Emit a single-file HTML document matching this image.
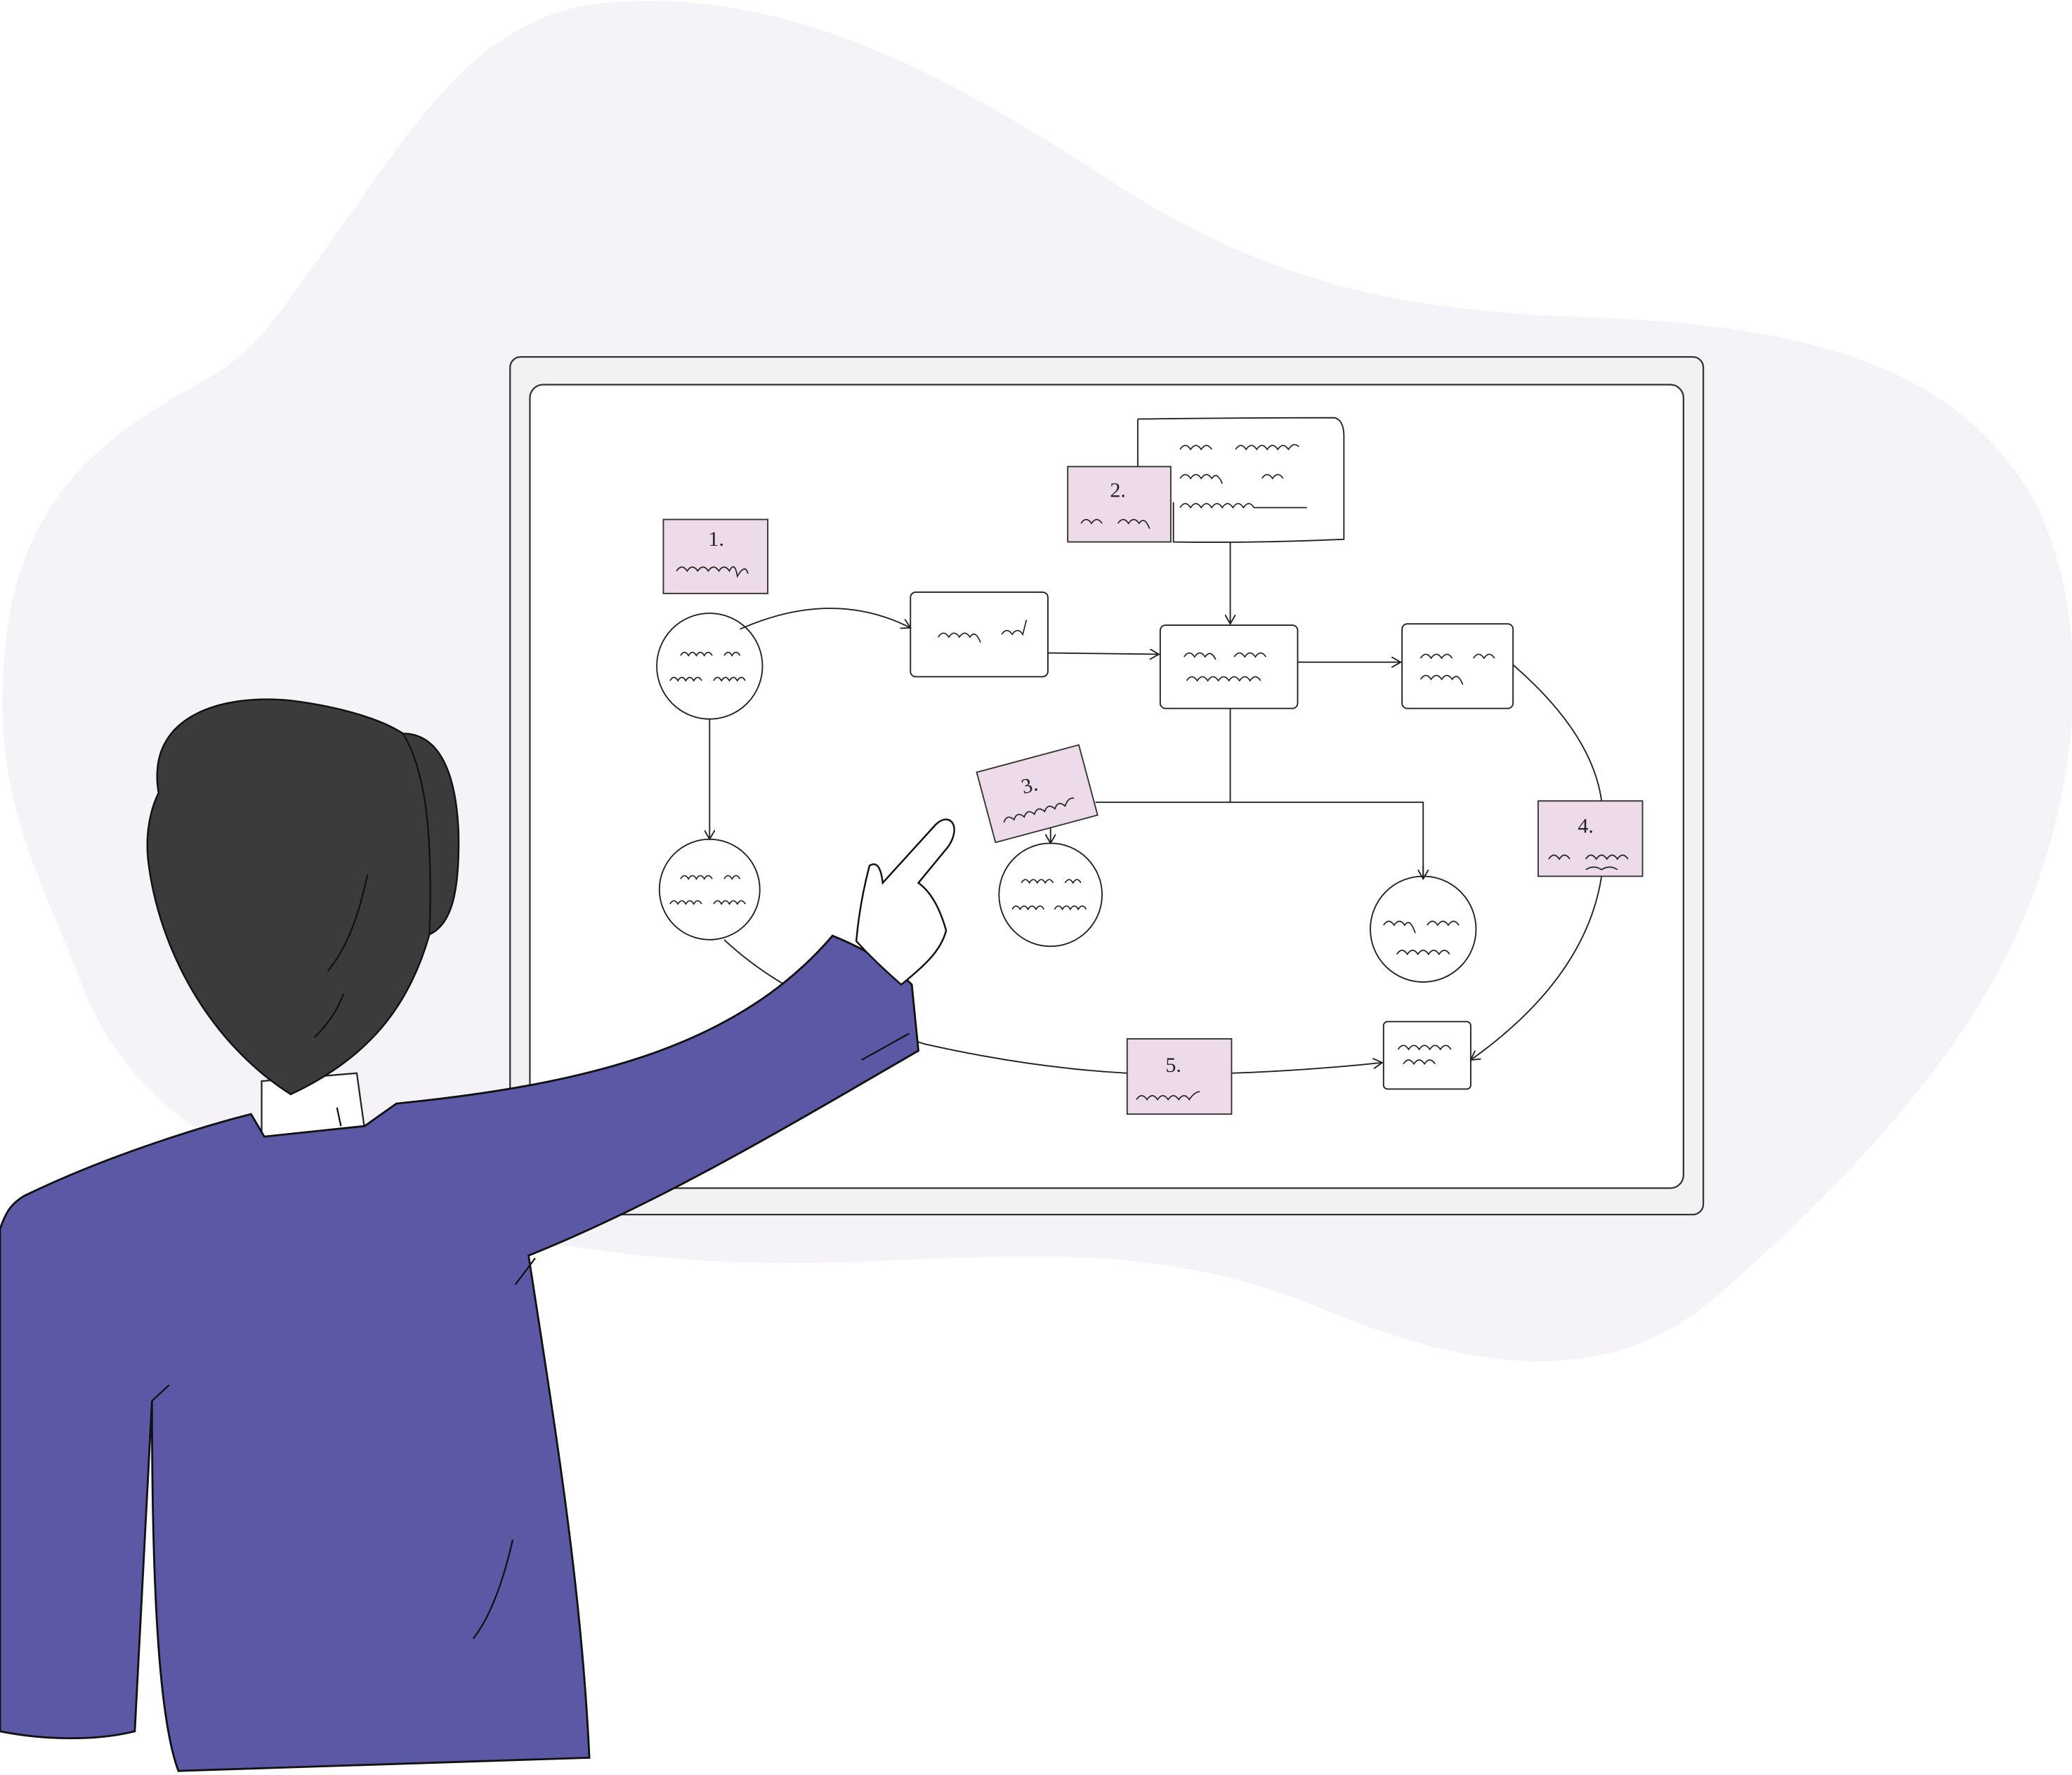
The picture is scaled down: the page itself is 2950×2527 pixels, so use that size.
<!DOCTYPE html>
<html><head><meta charset="utf-8"><style>
html,body{margin:0;padding:0;background:#fff;}
svg{display:block;}
text{font-family:"Liberation Serif",serif;}
</style></head><body>
<svg width="2950" height="2527" viewBox="0 0 1568 1343" xmlns="http://www.w3.org/2000/svg">
<defs>
<marker id="ar" markerWidth="8" markerHeight="8" refX="7" refY="4" orient="auto" markerUnits="userSpaceOnUse">
<path d="M0,0 L7,4 L0,8" fill="none" stroke="#222" stroke-width="1"/>
</marker>
</defs>
<path d="M230,210 C300,120 350,10 460,2 C600,-10 720,60 830,130 C950,210 1050,235 1200,240 C1350,245 1480,270 1540,380 C1590,480 1570,620 1520,720 C1470,820 1380,910 1300,980 C1220,1050 1120,1040 1000,990 C880,940 780,950 640,955 C500,960 380,940 250,900 C150,870 90,820 60,740 C30,660 -10,600 5,480 C20,360 100,320 150,290 C190,270 210,240 230,210 Z" fill="#f5f3f8"/>
<rect x="386" y="270" width="903" height="649" rx="8" fill="#f2f2f2" stroke="#333" stroke-width="1.2"/>
<rect x="401" y="291" width="873" height="608" rx="10" fill="#fff" stroke="#333" stroke-width="1.2"/>
<g fill="none" stroke="#222" stroke-width="1">
<path d="M560,476 Q630,445 689,475" marker-end="url(#ar)"/>
<path d="M793,494 L877,495" marker-end="url(#ar)"/>
<path d="M931,410 L931,472" marker-end="url(#ar)"/>
<path d="M982,501 L1060,501" marker-end="url(#ar)"/>
<path d="M931,536 L931,607 M829,607 L1077,607 L1077,665" />
<path d="M1077,655 L1077,665" marker-end="url(#ar)"/>
<path d="M795,625 L795,638" marker-end="url(#ar)"/>
<path d="M537,544 L537,635" marker-end="url(#ar)"/>
<path d="M1145,503 Q1205,555 1212,606"/>
<path d="M1212,663 Q1200,740 1113,802" marker-end="url(#ar)"/>
<path d="M548,711 Q600,760 700,790 Q780,808 853,812"/>
<path d="M932,812 Q990,810 1046,804" marker-end="url(#ar)"/>
<path d="M861,317 Q935,316 1010,316 Q1017,318 1017,330 L1017,408 Q950,411 888,410 L888,380 M861,317 L861,353"/>
<rect x="689" y="448" width="104" height="64" rx="4"/>
<rect x="878" y="473" width="104" height="63" rx="4"/>
<rect x="1061" y="472" width="84" height="64" rx="4"/>
<rect x="1047" y="773" width="66" height="51" rx="3"/>
<circle cx="537" cy="504" r="40"/>
<circle cx="537" cy="673" r="38"/>
<circle cx="795" cy="677" r="39"/>
<circle cx="1077" cy="703" r="40"/>
</g>
<g fill="#eddbe9" stroke="#333" stroke-width="1">
<rect x="502" y="393" width="79" height="56"/>
<rect x="808" y="353" width="78" height="57"/>
<rect x="745" y="573" width="80" height="55" transform="rotate(-15 785 601)"/>
<rect x="1164" y="606" width="79" height="57"/>
<rect x="853" y="786" width="79" height="57"/>
</g>
<g font-size="16" fill="#222">
<text x="536" y="413">1.</text>
<text x="840" y="376">2.</text>
<text x="775" y="598" transform="rotate(-15 785 601)">3.</text>
<text x="1194" y="630">4.</text>
<text x="882" y="811">5.</text>
</g>
<g fill="none" stroke="#222" stroke-width="0.9">
<path d="M512,432 q4,-6 8,0 q4,-6 8,0 q4,-6 8,0 q4,-6 8,0 q4,-6 8,0 q4,-8 6,4 q6,-10 8,-2"/>
<path d="M818,396 q4,-6 8,0 q4,-6 8,0 M846,396 q4,-6 8,0 q4,-6 8,0 q4,-6 8,4"/>
<path d="M755,615 q4,-6 8,0 q4,-6 8,0 q4,-6 8,0 q4,-6 8,0 q4,-6 8,0 q4,-6 8,0 q4,-6 8,-4" transform="rotate(-15 785 601)"/>
<path d="M1172,650 q4,-6 8,0 q4,-6 8,0 M1200,650 q4,-6 8,0 q4,-6 8,0 q4,-6 8,0 q4,-6 8,0 M1200,658 q6,-4 12,0 q6,-4 12,0"/>
<path d="M860,832 q4,-6 8,0 q4,-6 8,0 q4,-6 8,0 q4,-6 8,0 q4,-6 8,0 q4,-6 8,-6"/>
<path d="M893,340 q4,-6 8,0 q4,-6 8,0 q4,-6 8,0 M935,340 q4,-6 8,0 q4,-6 8,0 q4,-6 8,0 q4,-6 8,0 q4,-6 8,0 q4,-6 8,-2"/>
<path d="M893,362 q4,-6 8,0 q4,-6 8,0 q4,-6 8,0 q4,-6 8,4 M955,362 q4,-6 8,0 q4,-6 8,0"/>
<path d="M893,384 q4,-6 8,0 q4,-6 8,0 q4,-6 8,0 q4,-6 8,0 q4,-6 8,0 q4,-6 8,0 q4,-6 8,0 l40,0"/>
<path d="M710,482 q4,-6 8,0 q4,-6 8,0 q4,-6 8,0 q4,-6 8,4 M758,480 q4,-6 8,0 q4,-6 8,0 q4,-16 2,-8"/>
<path d="M896,497 q4,-6 8,0 q4,-6 8,0 q4,-6 8,2 M934,497 q4,-6 8,0 q4,-6 8,0 q4,-6 8,0"/>
<path d="M898,515 q4,-6 8,0 q4,-6 8,0 q4,-6 8,0 q4,-6 8,0 q4,-6 8,0 q4,-6 8,0 q4,-6 8,0"/>
<path d="M1075,498 q4,-6 8,0 q4,-6 8,0 q4,-6 8,0 M1115,498 q4,-6 8,0 q4,-6 8,0"/>
<path d="M1075,514 q4,-6 8,0 q4,-6 8,0 q4,-6 8,0 q4,-6 8,4"/>
<path d="M1058,794 q4,-6 8,0 q4,-6 8,0 q4,-6 8,0 q4,-6 8,0 q4,-6 8,0 M1062,805 q4,-6 8,0 q4,-6 8,0 q4,-6 8,0"/>
<path d="M515,496 q3,-5 6,0 q3,-5 6,0 q3,-5 6,0 q3,-5 6,0 M548,496 q3,-5 6,0 q3,-5 6,0"/>
<path d="M507,515 q3,-5 6,0 q3,-5 6,0 q3,-5 6,0 q3,-5 6,0 M540,515 q3,-5 6,0 q3,-5 6,0 q3,-5 6,0 q3,-5 6,0"/>
<path d="M515,665 q3,-5 6,0 q3,-5 6,0 q3,-5 6,0 q3,-5 6,0 M548,665 q3,-5 6,0 q3,-5 6,0"/>
<path d="M507,684 q3,-5 6,0 q3,-5 6,0 q3,-5 6,0 q3,-5 6,0 M540,684 q3,-5 6,0 q3,-5 6,0 q3,-5 6,0 q3,-5 6,0"/>
<path d="M773,668 q3,-5 6,0 q3,-5 6,0 q3,-5 6,0 q3,-5 6,0 M806,668 q3,-5 6,0 q3,-5 6,0"/>
<path d="M766,688 q3,-5 6,0 q3,-5 6,0 q3,-5 6,0 q3,-5 6,0 M798,688 q3,-5 6,0 q3,-5 6,0 q3,-5 6,0 q3,-5 6,0"/>
<path d="M1047,700 q4,-6 8,0 q4,-6 8,0 q4,-6 8,6 M1080,700 q4,-6 8,0 q4,-6 8,0 q4,-6 8,0"/>
<path d="M1057,722 q4,-6 8,0 q4,-6 8,0 q4,-6 8,0 q4,-6 8,0 q4,-6 8,0"/>
</g>
<path d="M198,818 L270,812 L276,855 L198,862 Z" fill="#fff" stroke="#222" stroke-width="1.2"/>
<path d="M18,905 C90,870 170,848 190,843 L200,860 L276,852 L300,835 C450,820 560,790 630,708 C660,720 680,735 690,745 L695,795 C600,850 500,910 400,950 C420,1080 440,1200 446,1330 L135,1340 C120,1300 115,1200 115,1060 L102,1310 C70,1318 30,1316 0,1310 L0,930 C5,915 10,910 18,905 Z" fill="#5b58a5" stroke="#111" stroke-width="1.5"/>
<path d="M648,712 C650,690 654,670 658,655 Q666,650 668,668 L708,624 C718,614 728,624 718,640 L695,668 C706,676 712,690 716,704 C712,720 698,732 682,745 C665,730 655,720 648,712 Z" fill="#fff" stroke="#111" stroke-width="1.3"/>
<path d="M120,600 C110,540 170,525 220,530 C260,535 290,545 305,555 C330,555 345,580 347,630 C348,680 340,700 325,707 C310,760 280,800 220,828 C160,790 120,720 112,650 C110,630 114,612 120,600 Z" fill="#3b3b3b" stroke="#111" stroke-width="1.3"/>
<g fill="none" stroke="#111" stroke-width="1.2">
<path d="M278,662 C270,700 260,720 248,735"/>
<path d="M260,752 C255,765 248,775 238,785"/>
<path d="M305,555 C320,580 328,620 325,707"/>
<path d="M652,802 L688,782"/>
<path d="M405,952 L390,972"/>
<path d="M115,1060 L128,1048"/>
<path d="M388,1165 C380,1200 370,1225 358,1240"/>
<path d="M255,838 L258,852"/>
</g>
</svg>
</body></html>
